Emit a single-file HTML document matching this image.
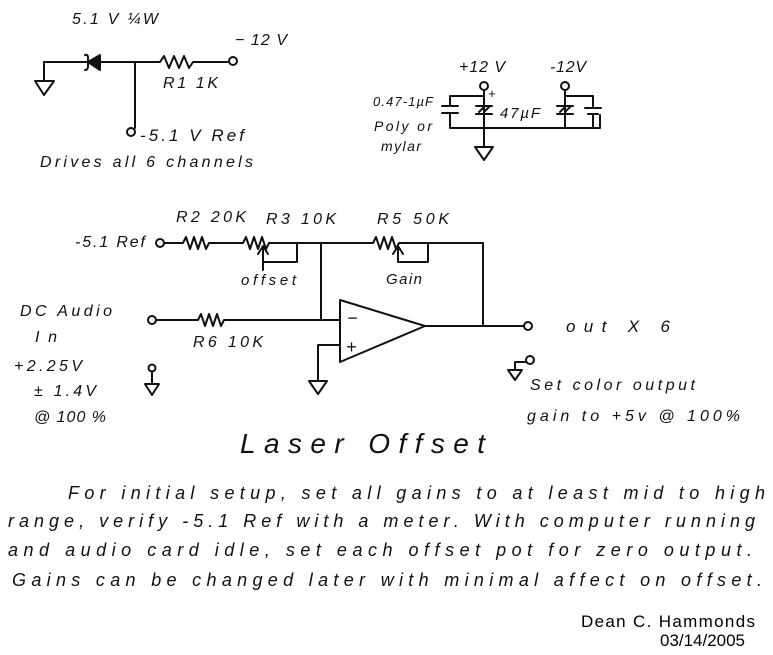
<!DOCTYPE html>
<html><head><style>
body{margin:0;background:#fff;}
svg{display:block}
.h{font-family:"Liberation Sans",sans-serif;font-style:italic;fill:#111;}
.w{stroke:#111;stroke-width:2;fill:none;stroke-linecap:round;stroke-linejoin:round}
</style></head><body>
<svg width="773" height="655" viewBox="0 0 773 655" xmlns="http://www.w3.org/2000/svg">
<rect width="773" height="655" fill="#fff"/>
<g class="w">
<path d="M44 62 H88 M100 62 H160 M160 62 l4-6 5 12 5-12 5 12 5-12 5 12 4-6 H228"/>
<circle cx="233" cy="61" r="4"/>
<path d="M44 62 V80 M35 81 H54 L44 95 Z"/>
<path d="M100 55 V70 L88 62 Z" fill="#111"/>
<path d="M85 55 Q88 54 88 58 V66 Q88 70 85 70"/>
<path d="M135 62 V128"/>
<circle cx="131" cy="132" r="4"/>
</g>
<text class="h" x="72" y="24" font-size="16" textLength="86">5.1 V ¼W</text>
<text class="h" x="235" y="45" font-size="16" textLength="52">− 12 V</text>
<text class="h" x="163" y="88" font-size="16" textLength="55">R1  1K</text>
<text class="h" x="140" y="141" font-size="17" textLength="104">-5.1 V Ref</text>
<text class="h" x="40" y="167" font-size="16" textLength="213">Drives  all  6  channels</text>
<g class="w">
<circle cx="484" cy="86" r="4"/><circle cx="565" cy="86" r="4"/>
<path d="M484 90 V128 M476 106 H492 M476 114 H492 M479 112 l6-6 M484 112 l6-6"/>
<path d="M484 96 H450 V106 M442 106 H458 M442 113 H458 M450 113 V128 H600 V115 M484 128 V146 M475 147 H493 L484 160 Z"/>
<path d="M565 90 V128 M557 106 H573 M557 114 H573 M560 112 l6-6 M565 112 l6-6 M565 96 H593 V108 M585 108 H601 M588 114 H598 M593 114 V128" />
</g>
<text class="h" x="459" y="72" font-size="16" textLength="46">+12 V</text>
<text class="h" x="488" y="98" font-size="13">+</text>
<text class="h" x="550" y="72" font-size="16" textLength="36">-12V</text>
<text class="h" x="373" y="106" font-size="13" textLength="60">0.47-1µF</text>
<text class="h" x="374" y="131" font-size="14" textLength="58">Poly  or</text>
<text class="h" x="381" y="151" font-size="14" textLength="40">mylar</text>
<text class="h" x="500" y="118" font-size="15" textLength="40">47µF</text>
<g class="w">
<circle cx="160" cy="243" r="4"/>
<path d="M164 243 H183 l3-6 4 12 4-12 4 12 4-12 4 12 3-6 H243 l3-6 4 12 4-12 4 12 4-12 4 12 3-6 H373 l3-6 4 12 4-12 4 12 4-12 4 12 3-6 H483 V325"/>
<path d="M263 270 V248 M258 254 L263 246 268 254 M263 262 H297 V243"/>
<path d="M398 262 V248 M393 254 L398 246 403 254 M398 262 H428 V243"/>
<path d="M321 243 V320"/>
<circle cx="152" cy="320" r="4"/>
<path d="M156 320 H198 l3-6 4 12 4-12 4 12 4-12 4 12 3-6 H340"/>
<path d="M340 300 L425 326 L340 362 Z"/>
<path d="M340 345 H318 V380 M309 381 H327 L318 394 Z"/>
<path d="M425 326 H524"/>
<circle cx="528" cy="326" r="4"/>
<circle cx="152" cy="368" r="3.5"/><path d="M152 372 V384 M145 384 H159 L152 395 Z"/>
<circle cx="530" cy="360" r="4"/><path d="M526 362 H515 V370 M508 370 H522 L515 380 Z"/>
</g>
<text class="h" x="176" y="222" font-size="16" textLength="70">R2  20K</text>
<text class="h" x="266" y="224" font-size="16" textLength="70">R3  10K</text>
<text class="h" x="377" y="224" font-size="16" textLength="72">R5   50K</text>
<text class="h" x="75" y="247" font-size="16" textLength="70">-5.1 Ref</text>
<text class="h" x="241" y="285" font-size="15" textLength="55">offset</text>
<text class="h" x="386" y="284" font-size="15" textLength="36">Gain</text>
<text class="h" x="347" y="324" font-size="18">−</text>
<text class="h" x="346" y="353" font-size="18">+</text>
<text class="h" x="193" y="347" font-size="16" textLength="70">R6   10K</text>
<text class="h" x="566" y="332" font-size="17" textLength="104">out   X 6</text>
<text class="h" x="20" y="316" font-size="16" textLength="92">DC Audio</text>
<text class="h" x="35" y="342" font-size="16" textLength="22">In</text>
<text class="h" x="14" y="371" font-size="16" textLength="68">+2.25V</text>
<text class="h" x="34" y="396" font-size="16" textLength="62">± 1.4V</text>
<text class="h" x="34" y="422" font-size="16" textLength="72">@ 100 %</text>
<text class="h" x="530" y="390" font-size="16" textLength="165">Set  color  output</text>
<text class="h" x="527" y="421" font-size="16" textLength="213">gain  to  +5v @ 100%</text>
<text class="h" x="240" y="453" font-size="28" textLength="245">Laser    Offset</text>
<text class="h" x="68" y="499" font-size="18" textLength="697">For  initial  setup,  set  all  gains  to  at least  mid  to  high</text>
<text class="h" x="8" y="527" font-size="18" textLength="747">range,  verify  -5.1 Ref  with  a  meter.  With  computer  running</text>
<text class="h" x="8" y="556" font-size="18" textLength="744">and  audio  card  idle,  set  each  offset  pot  for  zero  output.</text>
<text class="h" x="12" y="586" font-size="18" textLength="750">Gains  can  be  changed  later  with  minimal  affect  on  offset.</text>
<text x="581" y="627" font-family="Liberation Sans,sans-serif" font-size="17" fill="#000" textLength="174">Dean C. Hammonds</text>
<text x="660" y="646" font-family="Liberation Sans,sans-serif" font-size="17" fill="#000" textLength="85">03/14/2005</text>
</svg>
</body></html>
